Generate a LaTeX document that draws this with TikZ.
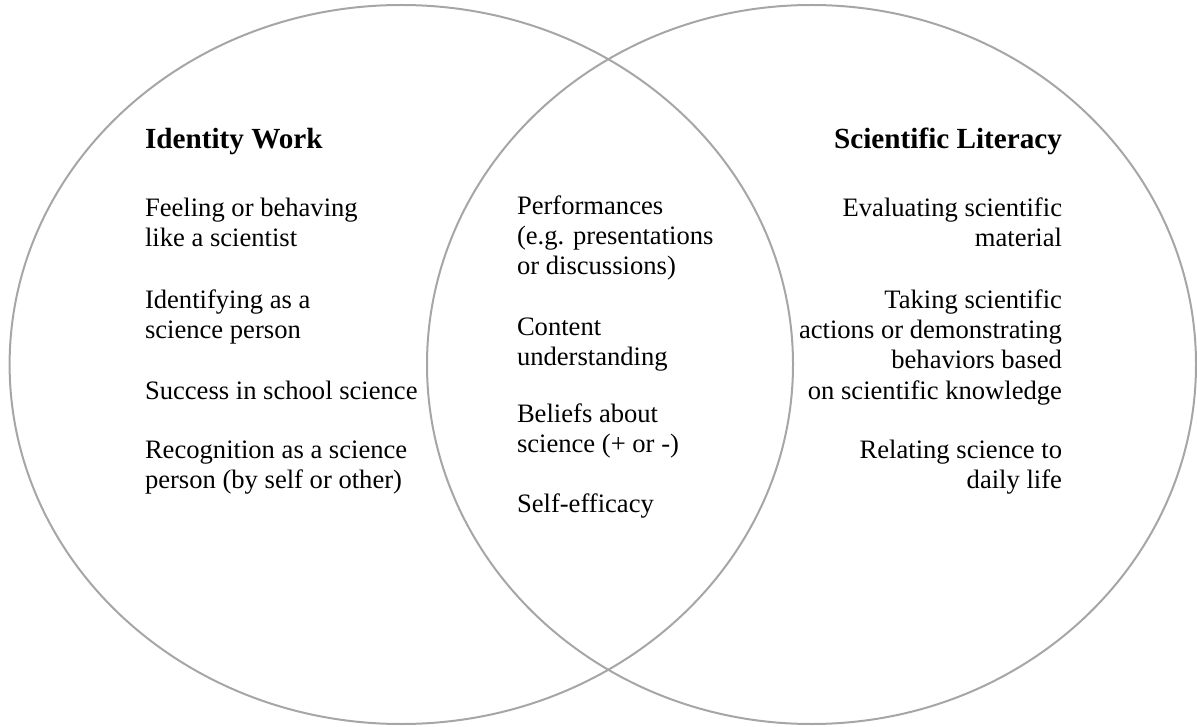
\documentclass[tikz,border=0pt]{standalone}
\usepackage{fontspec}
\setmainfont{Liberation Serif}
\begin{document}
\begin{tikzpicture}[x=1pt,y=-1pt,
  ring/.style={draw=black!35,line width=2pt},
  body/.style={inner sep=0pt,outer sep=0pt,font=\fontsize{26.6}{30}\selectfont},
  lefttext/.style={body,anchor=base west,align=left},
  righttext/.style={body,anchor=base east,align=right},
  heading/.style={inner sep=0pt,outer sep=0pt,font=\fontsize{29.2}{33}\selectfont\bfseries}]
\useasboundingbox (0,0) rectangle (1197,727);
% the two overlapping sets
\draw[ring] (401.3,364.5) ellipse [x radius=391.7, y radius=359.5];
\draw[ring] (811.5,364.5) ellipse [x radius=384.5, y radius=359.5];
% left set (each node is placed at the baseline of its last line)
\node[heading,anchor=base west] (idw) at (145,149) {Identity Work};
\node[lefttext] (l1) at (145,247) {Feeling or behaving\\like a scientist};
\node[lefttext] (l2) at (145,339) {Identifying as a\\science person};
\node[lefttext] (l3) at (145,399) {Success in school science};
\node[lefttext] (l4) at (145,488) {Recognition as a science\\person (by self or other)};
% overlap
\node[lefttext] (m1) at (517,275) {Performances\\(e.g. presentations\\or discussions)};
\node[lefttext] (m2) at (517,366) {Content\\understanding};
\node[lefttext] (m3) at (517,452) {Beliefs about\\science (+ or -)};
\node[lefttext] (m4) at (517,512) {Self-efficacy};
% right set
\node[heading,anchor=base east] (scl) at (1062,149) {Scientific Literacy};
\node[righttext] (r1) at (1062,247) {Evaluating scientific\\material};
\node[righttext] (r2) at (1062,399) {Taking scientific\\actions or demonstrating\\behaviors based\\on scientific knowledge};
\node[righttext] (r3) at (1062,488) {Relating science to\\daily life};
\end{tikzpicture}
\end{document}
